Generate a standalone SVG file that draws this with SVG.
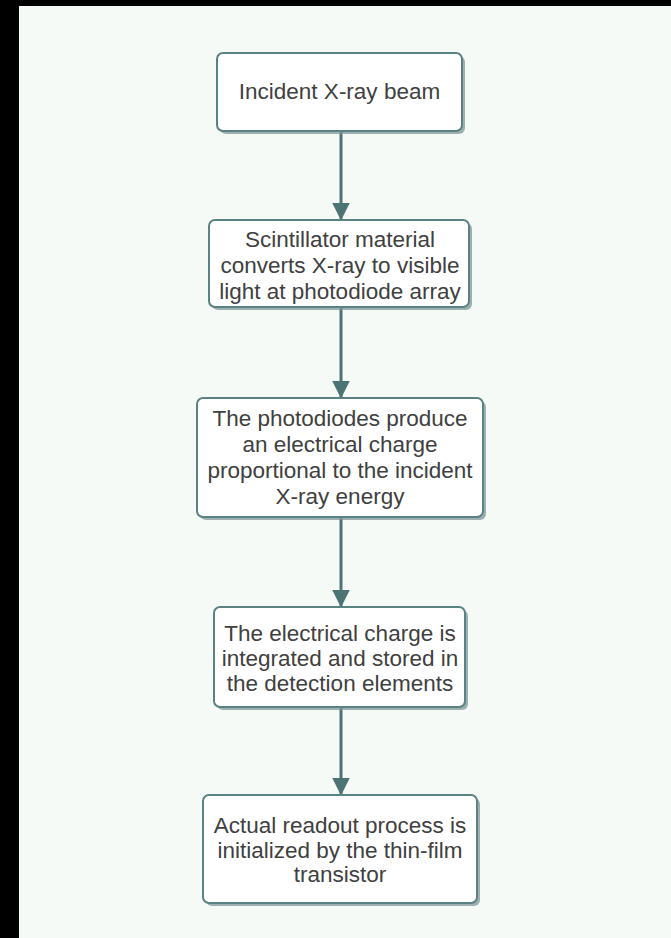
<svg xmlns="http://www.w3.org/2000/svg" width="671" height="938" viewBox="0 0 671 938">
<defs>
<marker id="ah" markerWidth="6" markerHeight="6" refX="5.5" refY="3" orient="auto" markerUnits="strokeWidth"><path d="M0,0 L6,3 L0,6 Z" fill="#4c7474"/></marker>
<style>
.box{fill:#ffffff;stroke:#5b8282;stroke-width:2}
.sh{fill:#7f9797;opacity:0.75}
.t{font-family:"Liberation Sans",Arial,sans-serif;font-size:22.5px;fill:#404040;text-anchor:middle}
.c{stroke:#4c7474;stroke-width:3;fill:none;marker-end:url(#ah)}
</style>
</defs>
<rect x="0" y="0" width="671" height="938" fill="#000"/>
<rect x="19" y="6" width="652" height="932" fill="#f5faf7"/>
<g id="connectors">
<line class="c" x1="341" y1="131" x2="341" y2="219"/>
<line class="c" x1="341" y1="307" x2="341" y2="397"/>
<line class="c" x1="341" y1="517" x2="341" y2="606"/>
<line class="c" x1="341" y1="707" x2="341" y2="794"/>
</g>
<g id="n1">
<rect class="sh" x="220" y="56" width="245" height="78" rx="6"/>
<rect class="box" x="217" y="53" width="245" height="78" rx="6"/>
<text class="t" x="339.5" y="99">Incident X-ray beam</text>
</g>
<g id="n2">
<rect class="sh" x="212" y="223" width="260" height="87" rx="6"/>
<rect class="box" x="209" y="220" width="260" height="87" rx="6"/>
<text class="t" x="340" y="247">Scintillator material</text>
<text class="t" x="340" y="273">converts X-ray to visible</text>
<text class="t" x="340" y="299">light at photodiode array</text>
</g>
<g id="n3">
<rect class="sh" x="200" y="401" width="286" height="119" rx="6"/>
<rect class="box" x="197" y="398" width="286" height="119" rx="6"/>
<text class="t" x="340" y="426">The photodiodes produce</text>
<text class="t" x="340" y="452">an electrical charge</text>
<text class="t" x="340" y="478">proportional to the incident</text>
<text class="t" x="340" y="504">X-ray energy</text>
</g>
<g id="n4">
<rect class="sh" x="217" y="610" width="251" height="100" rx="6"/>
<rect class="box" x="214" y="607" width="251" height="100" rx="6"/>
<text class="t" x="340" y="641">The electrical charge is</text>
<text class="t" x="340" y="666">integrated and stored in</text>
<text class="t" x="340" y="691">the detection elements</text>
</g>
<g id="n5">
<rect class="sh" x="206" y="798" width="274" height="108" rx="6"/>
<rect class="box" x="203" y="795" width="274" height="108" rx="6"/>
<text class="t" x="340" y="833">Actual readout process is</text>
<text class="t" x="340" y="858">initialized by the thin-film</text>
<text class="t" x="340" y="882">transistor</text>
</g>
</svg>
